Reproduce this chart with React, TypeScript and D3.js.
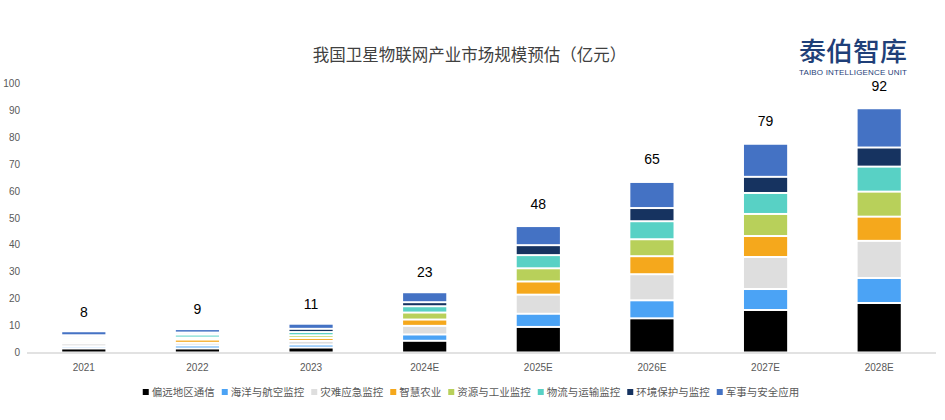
import React, { useLayoutEffect } from "react";
import * as d3 from "d3";

const categories = ["2021", "2022", "2023", "2024E", "2025E", "2026E", "2027E", "2028E"];
const seriesNames = ["偏远地区通信", "海洋与航空监控", "灾难应急监控", "智慧农业", "资源与工业监控", "物流与运输监控", "环境保护与监控", "军事与安全应用"];
const remote = [1.5, 1.5, 1.85, 4.35, 9.5, 12.7, 15.8, 18.4];
const oceanAir = [0.8, 1.1, 1.1, 2.35, 4.9, 6.7, 7.8, 9.3];
const disaster = [1.1, 1.0, 1.35, 3.2, 7.1, 9.7, 11.9, 13.8];
const agriculture = [0.75, 1.2, 1.1, 2.35, 4.9, 6.7, 7.8, 9.0];
const industry = [0.75, 0.75, 1.0, 2.6, 4.9, 6.3, 8.2, 9.3];
const logistics = [0.75, 1.1, 1.2, 2.35, 4.9, 6.7, 7.8, 9.3];
const environment = [0.75, 0.75, 1.2, 1.5, 3.7, 4.9, 6.0, 7.1];
const military = [1.5, 1.3, 1.9, 3.7, 7.1, 9.7, 12.3, 14.6];
const totals = [8, 9, 11, 23, 48, 65, 79, 92];
const yTicks = [0, 10, 20, 30, 40, 50, 60, 70, 80, 90, 100];

const seriesValues = [remote, oceanAir, disaster, agriculture, industry, logistics, environment, military];
const colors = ["#000000", "#4BA3F5", "#DEDEDE", "#F5A81C", "#B8D05A", "#58D1C5", "#163360", "#4472C4"];

const W = 945;
const H = 420;
const CJK = "'Noto Sans CJK SC', 'Noto Sans', sans-serif";
const NUM = "'Liberation Sans', Arial, 'Noto Sans CJK SC', sans-serif";

export default function App() {
  useLayoutEffect(() => {
    document.body.style.margin = "0";
  }, []);

  const x = d3.scaleBand<string>().domain(categories).range([27, 936]).paddingInner(0.62).paddingOuter(0.31);
  const y = d3.scaleLinear().domain([0, 100]).range([352.5, 83.5]);

  const rows = categories.map((c, i) => {
    const r: any = { cat: c };
    seriesNames.forEach((s, k) => (r[s] = seriesValues[k][i]));
    return r;
  });
  const stacked = d3.stack<any>().keys(seriesNames)(rows);

  // legend layout
  const legFont = 10.5;
  const sq = 6;
  const gapSq = 3;
  const itemGap = 7;
  const widths = seriesNames.map((s) => sq + gapSq + s.length * legFont);
  const totalW = d3.sum(widths) + itemGap * (seriesNames.length - 1);
  const legStart = 471 - totalW / 2;
  const legX: number[] = [];
  let acc = legStart;
  widths.forEach((w) => {
    legX.push(acc);
    acc += w + itemGap;
  });
  const legY = 392;

  return (
    <svg width={W} height={H} style={{ display: "block", background: "#fff" }}>
      <text x={469.5} y={61} textAnchor="middle" fontFamily={CJK} fontSize={16.5} fill="#404040">
        我国卫星物联网产业市场规模预估（亿元）
      </text>

      <text x={853} y={61} textAnchor="middle" fontFamily={CJK} fontSize={26} fontWeight={500} fill="#1F3F78" textLength={108} lengthAdjust="spacingAndGlyphs">
        泰伯智库
      </text>
      <text x={853} y={75} textAnchor="middle" fontFamily={NUM} fontSize={8} fill="#1F3F78" textLength={108} lengthAdjust="spacing">
        TAIBO INTELLIGENCE UNIT
      </text>

      {yTicks.map((t) => (
        <text key={t} x={20} y={y(t) + 3.5} textAnchor="end" fontFamily={NUM} fontSize={10} fill="#595959">
          {t}
        </text>
      ))}

      {stacked.map((layer, k) => (
        <g key={layer.key} fill={colors[k]}>
          {layer.map((d, i) => {
            const top = y(d[1]);
            const bot = y(d[0]);
            const h = bot - top - 2;
            if (h <= 0) return null;
            return <rect key={i} x={x(categories[i])} y={top + 1} width={x.bandwidth()} height={h} />;
          })}
        </g>
      ))}

      <line x1={27} x2={936} y1={y(0) + 0.5} y2={y(0) + 0.5} stroke="#D9D9D9" strokeWidth={1.5} />

      {categories.map((c) => (
        <text key={c} x={(x(c) as number) + x.bandwidth() / 2} y={371} textAnchor="middle" fontFamily={NUM} fontSize={10} fill="#595959">
          {c}
        </text>
      ))}

      {categories.map((c, i) => (
        <text key={c} x={(x(c) as number) + x.bandwidth() / 2} y={y(totals[i]) - 14} textAnchor="middle" fontFamily={NUM} fontSize={14} fill="#000">
          {totals[i]}
        </text>
      ))}

      {seriesNames.map((s, k) => (
        <g key={s}>
          <rect x={legX[k]} y={legY - sq / 2} width={sq} height={sq} fill={colors[k]} />
          <text x={legX[k] + sq + gapSq} y={legY + 4} fontFamily={CJK} fontSize={legFont} fill="#595959">
            {s}
          </text>
        </g>
      ))}
    </svg>
  );
}
